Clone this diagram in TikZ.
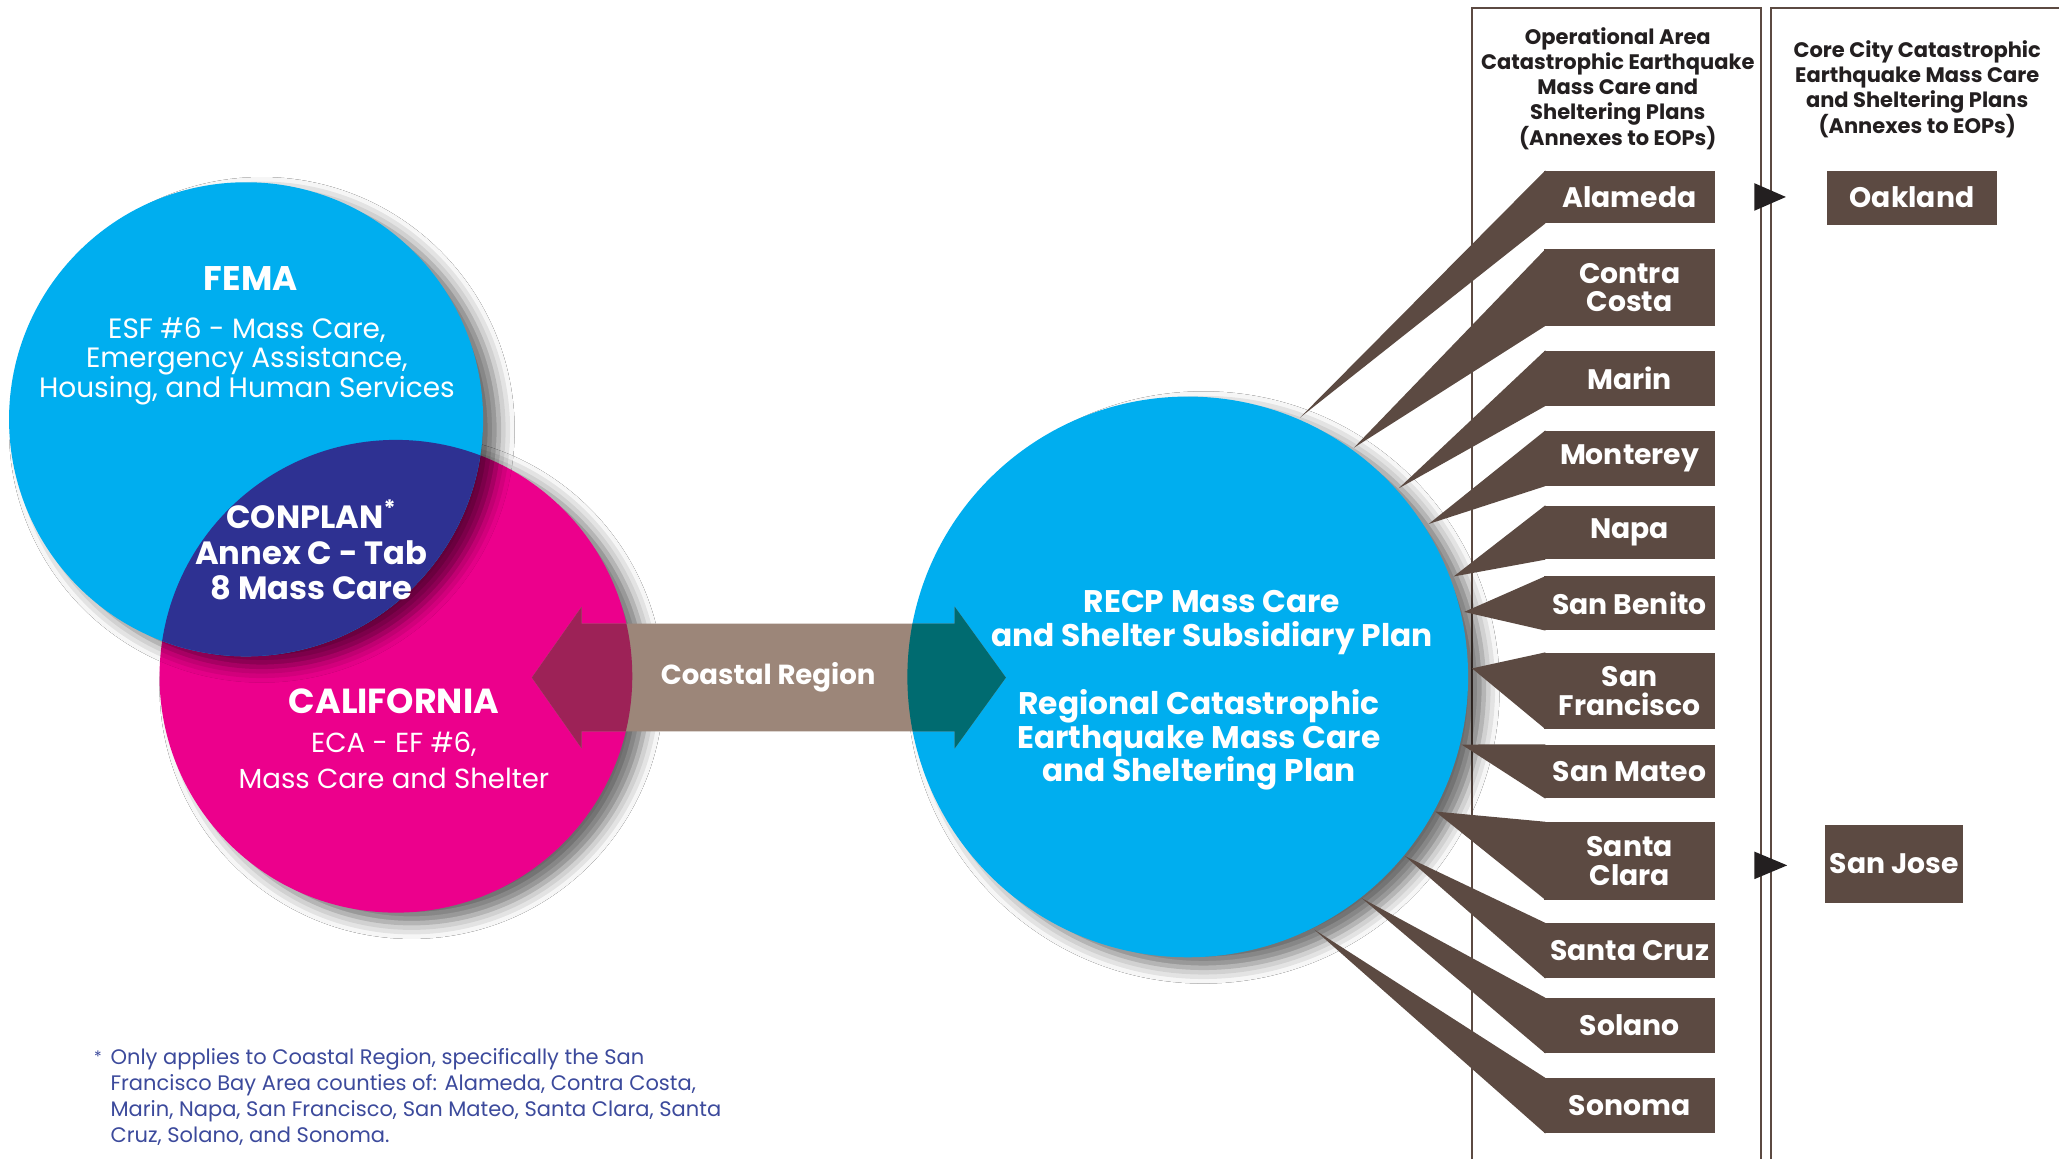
\documentclass[tikz,border=0pt]{standalone}
\usepackage{fontspec}
\setmainfont{Poppins}
\newfontfamily\geo{Poppins}
\usetikzlibrary{shadows.blur}
\definecolor{femablue}{HTML}{00AEEF}
\definecolor{calmag}{HTML}{EC008C}
\definecolor{conpurple}{HTML}{2E3192}
\definecolor{cbrown}{HTML}{5C4A42}
\definecolor{bandbrown}{HTML}{9C8679}
\definecolor{bandred}{HTML}{9D2257}
\definecolor{bandteal}{HTML}{006B70}
\definecolor{headtext}{HTML}{231F20}
\definecolor{notetext}{HTML}{3C4A9C}
\begin{document}
\begin{tikzpicture}[x=1pt,y=-1pt,font=\geo,
  shadowed/.style={blur shadow={shadow xshift=12pt,shadow yshift=-8pt,shadow blur radius=12pt,shadow opacity=58}},
  disc/.style={circle,inner sep=0pt,shadowed},
  county/.style={fill=cbrown,text=white,inner sep=0pt,minimum width=130pt,align=center,font=\geo\bfseries\fontsize{21.5}{22}\selectfont},
  citybox/.style={fill=cbrown,text=white,inner sep=0pt,align=center,font=\geo\bfseries\fontsize{21.5}{22}\selectfont},
  frameline/.style={draw=cbrown,line width=1.6pt},
  wedge/.style={fill=cbrown},
  headtxt/.style={text=headtext,align=center,inner sep=0pt,font=\geo\bfseries\fontsize{16}{19}\selectfont},
  wtxt/.style={text=white,align=center,inner sep=0pt},
  arrowtip/.style={fill=headtext}]
\useasboundingbox (0,0) rectangle (1568,882);
\clip (0,0) rectangle (1568,882);
\fill[white] (0,0) rectangle (1568,882);
% frames
\draw[frameline] (1121,900) -- (1121,6) -- (1341,6) -- (1341,900);
\draw[frameline] (1349,900) -- (1349,6) -- (1600,6);
% left circles
\node[disc,fill=calmag,minimum size=360pt] (cal) at (301.5,515) {};
\node[disc,fill=femablue,minimum size=361pt] (fema) at (187.4,319.3) {};
\begin{scope}
  \clip (cal.center) circle[radius=180];
  \fill[conpurple] (fema.center) circle[radius=180.5];
\end{scope}
% central circle
\node[disc,fill=femablue,minimum size=427pt] (recp) at (904.5,515.5) {};
% double arrow
\fill[bandbrown] (405,516) -- (443,462) -- (443,475) -- (727,475) -- (727,462) -- (766,516) -- (727,570) -- (727,557) -- (443,557) -- (443,570) -- cycle;
\begin{scope}
  \clip (cal.center) circle[radius=180];
  \fill[bandred] (405,516) -- (443,462) -- (443,475) -- (727,475) -- (727,462) -- (766,516) -- (727,570) -- (727,557) -- (443,557) -- (443,570) -- cycle;
\end{scope}
\begin{scope}
  \clip (recp.center) circle[radius=213.5];
  \fill[bandteal] (405,516) -- (443,462) -- (443,475) -- (727,475) -- (727,462) -- (766,516) -- (727,570) -- (727,557) -- (443,557) -- (443,570) -- cycle;
\end{scope}
\node[wtxt,font=\geo\bfseries\fontsize{21}{21}\selectfont] (coast) at (585,516) {Coastal Region};
% central text
\node[wtxt,font=\geo\bfseries\fontsize{23.8}{25.5}\selectfont] (recpA) at (923,474) {RECP Mass Care\\and Shelter Subsidiary Plan};
\node[wtxt,font=\geo\bfseries\fontsize{23.8}{25.5}\selectfont] (recpB) at (913,563.5) {Regional Catastrophic\\Earthquake Mass Care\\and Sheltering Plan};
% left texts
\node[wtxt,font=\geo\bfseries\fontsize{26}{26}\selectfont] (femaT) at (191,212) {FEMA};
\node[wtxt,font=\geo\fontsize{21.3}{22.5}\selectfont] (femaB) at (188,275) {ESF \#6 - Mass Care,\\Emergency Assistance,\\Housing, and Human Services};
\node[wtxt,font=\geo\bfseries\fontsize{24.5}{27}\selectfont] (conT) at (237,419) {CONPLAN\textsuperscript{*}\\Annex C - Tab\\8 Mass Care};
\node[wtxt,font=\geo\bfseries\fontsize{26.5}{26.5}\selectfont] (calT) at (300,534) {CALIFORNIA};
\node[wtxt,font=\geo\fontsize{21}{28}\selectfont] (calB) at (300,579) {ECA - EF \#6,\\Mass Care and Shelter};
% counties
\coordinate (tAla) at (990,318);
\coordinate (tCC) at (1031,341);
\coordinate (tMar) at (1065,372);
\coordinate (tMon) at (1088,399);
\coordinate (tNap) at (1107,439);
\coordinate (tSB) at (1115,466);
\coordinate (tSF) at (1121,509);
\coordinate (tSM) at (1113,567);
\coordinate (tSCl) at (1093,618);
\coordinate (tSCz) at (1070,652);
\coordinate (tSol) at (1037,684);
\coordinate (tSon) at (1001,708);
\node[county,minimum height=40pt] (ala) at (1241,150) {Alameda};
\node[county,minimum height=58pt] (cc) at (1241,219) {Contra\\[-0.5pt]Costa};
\node[county,minimum height=42pt] (mar) at (1241,288) {Marin};
\node[county,minimum height=42pt] (mon) at (1241,349) {Monterey};
\node[county,minimum height=41pt] (nap) at (1241,405.5) {Napa};
\node[county,minimum height=41pt] (sb) at (1241,459.5) {San Benito};
\node[county,minimum height=58pt] (sf) at (1241,526) {San\\Francisco};
\node[county,minimum height=41pt] (sm) at (1241,587.5) {San Mateo};
\node[county,minimum height=59pt] (scl) at (1241,655.5) {Santa\\Clara};
\node[county,minimum height=42pt] (scz) at (1241,724) {Santa Cruz};
\node[county,minimum height=42pt] (sol) at (1241,781) {Solano};
\node[county,minimum height=42pt] (son) at (1241,842) {Sonoma};
\fill[wedge] ([xshift=1pt]ala.north west) -- (tAla) -- ([xshift=1pt]ala.south west) -- cycle;
\fill[wedge] ([xshift=1pt]cc.north west) -- (tCC) -- ([xshift=1pt]cc.south west) -- cycle;
\fill[wedge] ([xshift=1pt]mar.north west) -- (tMar) -- ([xshift=1pt]mar.south west) -- cycle;
\fill[wedge] ([xshift=1pt]mon.north west) -- (tMon) -- ([xshift=1pt]mon.south west) -- cycle;
\fill[wedge] ([xshift=1pt]nap.north west) -- (tNap) -- ([xshift=1pt]nap.south west) -- cycle;
\fill[wedge] ([xshift=1pt]sb.north west) -- (tSB) -- ([xshift=1pt]sb.south west) -- cycle;
\fill[wedge] ([xshift=1pt]sf.north west) -- (tSF) -- ([xshift=1pt]sf.south west) -- cycle;
\fill[wedge] ([xshift=1pt]sm.north west) -- (tSM) -- ([xshift=1pt]sm.south west) -- cycle;
\fill[wedge] ([xshift=1pt]scl.north west) -- (tSCl) -- ([xshift=1pt]scl.south west) -- cycle;
\fill[wedge] ([xshift=1pt]scz.north west) -- (tSCz) -- ([xshift=1pt]scz.south west) -- cycle;
\fill[wedge] ([xshift=1pt]sol.north west) -- (tSol) -- ([xshift=1pt]sol.south west) -- cycle;
\fill[wedge] ([xshift=1pt]son.north west) -- (tSon) -- ([xshift=1pt]son.south west) -- cycle;
% cities
\node[citybox,minimum width=130pt,minimum height=41pt] (oak) at (1456,150.5) {Oakland};
\node[citybox,minimum width=105pt,minimum height=60pt] (sj) at (1442.5,658) {San Jose};
\coordinate (oakArr) at (1336,150);
\coordinate (sjArr) at (1336,659);
\fill[arrowtip] ([yshift=10.5pt]oakArr) -- ([xshift=24pt]oakArr) -- ([yshift=-10.5pt]oakArr) -- cycle;
\fill[arrowtip] ([yshift=10.5pt]sjArr) -- ([xshift=25pt]sjArr) -- ([yshift=-10.5pt]sjArr) -- cycle;
% headers
\node[headtxt] (hdrA) at (1232,67.5) {Operational Area\\Catastrophic Earthquake\\Mass Care and\\Sheltering Plans\\(Annexes to EOPs)};
\node[headtxt] (hdrB) at (1460,68) {Core City Catastrophic\\Earthquake Mass Care\\and Sheltering Plans\\(Annexes to EOPs)};
% footnote
\node[text=notetext,inner sep=0pt,font=\geo\fontsize{12}{12}\selectfont] (star) at (74.5,805) {*};
\node[anchor=north west,inner sep=0pt,align=left,text=notetext,font=\geo\fontsize{16}{20}\selectfont] (note) at (84,798) {Only applies to Coastal Region, specifically the San\\Francisco Bay Area counties of: Alameda, Contra Costa,\\Marin, Napa, San Francisco, San Mateo, Santa Clara, Santa\\Cruz, Solano, and Sonoma.};
\end{tikzpicture}
\end{document}
